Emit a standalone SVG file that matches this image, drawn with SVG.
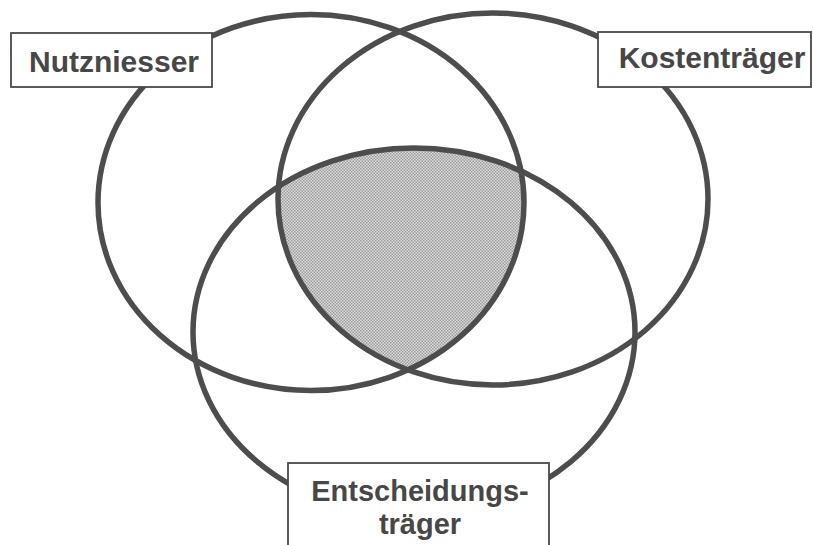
<svg xmlns="http://www.w3.org/2000/svg" width="813" height="545" viewBox="0 0 813 545">
  <style>
    .ring { fill: none; stroke: #4d4d4d; stroke-width: 5.5; }
    .box { fill: #ffffff; stroke: #4a4a4a; stroke-width: 1.8; }
    .lbl { font-family: "Liberation Sans", Arial, sans-serif; font-weight: bold; font-size: 30px; fill: #474747; text-anchor: middle; }
    .lbl2 { font-size: 29px; }
  </style>
  <defs>
    <pattern id="stipple" width="3" height="3" patternUnits="userSpaceOnUse">
      <rect width="3" height="3" fill="#dcdcdc"/>
      <rect x="0" y="0" width="1.5" height="1.5" fill="#9c9c9c"/>
      <rect x="1.5" y="1.5" width="1.5" height="1.5" fill="#9c9c9c"/>
    </pattern>
    <clipPath id="clipL"><ellipse cx="311" cy="202.5" rx="213" ry="188"/></clipPath>
    <clipPath id="clipR"><ellipse cx="493" cy="199" rx="215" ry="186"/></clipPath>
  </defs>
  <rect width="813" height="545" fill="#ffffff"/>

  <g id="intersection" clip-path="url(#clipL)">
    <ellipse cx="414" cy="332" rx="221" ry="184" fill="url(#stipple)" clip-path="url(#clipR)"/>
  </g>

  <g id="circles">
    <ellipse id="ring-nutzniesser" class="ring" cx="311" cy="202.5" rx="213" ry="188"/>
    <ellipse id="ring-kostentraeger" class="ring" cx="493" cy="199" rx="215" ry="186"/>
    <ellipse id="ring-entscheidungstraeger" class="ring" cx="414" cy="332" rx="221" ry="184"/>
  </g>

  <g id="node-nutzniesser">
    <rect class="box" x="11" y="33" width="201" height="54"/>
    <text class="lbl" x="114" y="72">Nutzniesser</text>
  </g>
  <g id="node-kostentraeger">
    <rect class="box" x="598" y="32" width="213" height="55"/>
    <text class="lbl" x="712" y="68">Kostenträger</text>
  </g>
  <g id="node-entscheidungstraeger">
    <rect class="box" x="288" y="463" width="261" height="90"/>
    <text class="lbl lbl2" x="420" y="501">Entscheidungs-</text>
    <text class="lbl lbl2" x="420" y="534">träger</text>
  </g>
</svg>
